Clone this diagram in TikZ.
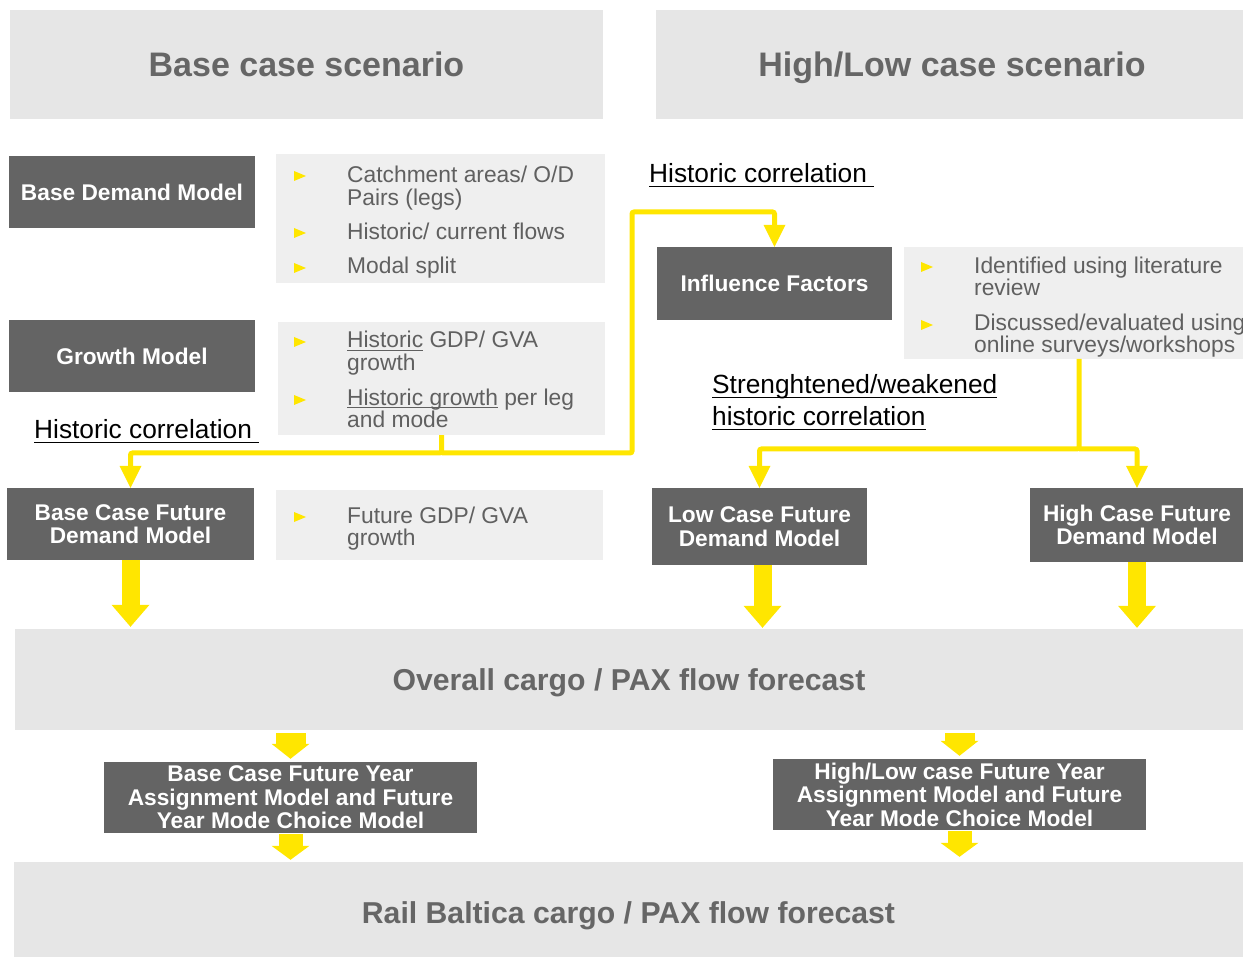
\documentclass[tikz,border=0pt]{standalone}
\usepackage{fontspec}
\setmainfont{Liberation Sans}
\usetikzlibrary{arrows.meta}
\definecolor{yel}{HTML}{FFE600}
\definecolor{hdrgray}{HTML}{E6E6E6}
\definecolor{bulgray}{HTML}{EFEFEF}
\definecolor{darkbox}{HTML}{646464}
\definecolor{txtgray}{HTML}{666666}
\definecolor{bultxt}{HTML}{606060}
\newcommand\myul[1]{\setbox0\hbox{#1}\rlap{\rule[-3pt]{\wd0}{1.2pt}}\box0\relax}
\newcommand\labul[1]{\setbox0\hbox{#1}\rlap{\rule[-4.5pt]{\wd0}{1.6pt}}\box0\relax}
\newcommand\bul[2]{\fill[yel] (#1-6,#2-5) -- (#1+6,#2) -- (#1-6,#2+5) -- cycle;}
\begin{document}
\begin{tikzpicture}[x=1pt,y=-1pt,
  hdr/.style={fill=hdrgray, text=txtgray, inner sep=0pt, text height=24.3pt, text depth=0pt, font=\fontsize{34}{40}\selectfont\bfseries},
  bigbox/.style={fill=hdrgray, text=txtgray, inner sep=0pt, text height=21.5pt, text depth=0pt, font=\fontsize{30.2}{34}\selectfont\bfseries},
  dbox/.style={fill=darkbox, text=white, inner sep=0pt, align=center, font=\fontsize{22.7}{23.5}\selectfont\bfseries},
  bbox/.style={fill=bulgray, inner sep=0pt},
  btxt/.style={anchor=base west, inner sep=0pt, text=bultxt, font=\fontsize{22.8}{23.5}\selectfont},
  lab/.style={anchor=base west, inner sep=0pt, text=black, font=\fontsize{26.3}{32}\selectfont},
  conn/.style={draw=yel, line width=5pt, rounded corners=2pt, -{Triangle[width=22pt,length=22pt,line width=0pt]}},
  fat/.style={draw=yel, line width=18pt, -{Triangle[width=38pt,length=22pt,line width=0pt]}},
  sarr/.style={draw=yel, line width=30pt, -{Triangle[width=38pt,length=15pt,line width=0pt]}},
  sarrb/.style={draw=yel, line width=24pt, -{Triangle[width=38pt,length=14pt,line width=0pt]}}
]
\useasboundingbox (0,0) rectangle (1243,957);

% headers
\node[hdr, minimum width=593pt, minimum height=109pt] (h1) at (306.5,64.5) {Base case scenario};
\node[hdr, minimum width=592pt, minimum height=109pt] (h2) at (952,64.5) {High/Low case scenario};

% left column
\node[dbox, minimum width=246pt, minimum height=72pt] (bdm) at (132,192) {Base Demand Model};
\node[bbox, minimum width=329pt, minimum height=129pt] (bl1) at (440.5,218.5) {};
\node[dbox, minimum width=246pt, minimum height=72pt] (gm) at (132,356) {Growth Model};
\node[bbox, minimum width=327pt, minimum height=113pt] (bl2) at (441.5,378.5) {};
\node[dbox, minimum width=247pt, minimum height=72pt] (bcf) at (130.5,524) {Base Case Future\\Demand Model};
\node[bbox, minimum width=327pt, minimum height=70pt] (bl3) at (439.5,525) {};

% right column
\node[dbox, minimum width=235pt, minimum height=73pt] (inf) at (774.5,283.5) {Influence Factors};
\node[bbox, minimum width=346pt, minimum height=112pt] (bl4) at (1077,303) {};
\node[dbox, minimum width=215pt, minimum height=77pt] (lcf) at (759.5,526.5) {Low Case Future\\Demand Model};
\node[dbox, minimum width=214pt, minimum height=74pt] (hcf) at (1137,525) {High Case Future\\Demand Model};

% bottom
\node[bigbox, minimum width=1228pt, minimum height=101pt] (ovr) at (629,679.5) {Overall cargo / PAX flow forecast};
\node[dbox, minimum width=373pt, minimum height=71pt] (bfy) at (290.5,797.5) {Base Case Future Year\\Assignment Model and Future\\Year Mode Choice Model};
\node[dbox, minimum width=373pt, minimum height=71pt] (hfy) at (959.5,794.5) {High/Low case Future Year\\Assignment Model and Future\\Year Mode Choice Model};
\node[bigbox, text height=28pt, minimum width=1229pt, minimum height=95pt] (rail) at (628.5,909.5) {Rail Baltica cargo / PAX flow forecast};

% bullet texts
\bul{300}{176}\bul{300}{233}\bul{300}{268}
\node[btxt] (t11) at (347,182.5) {Catchment areas/ O/D};
\node[btxt] (t12) at (347,205.5) {Pairs (legs)};
\node[btxt] (t13) at (347,239.5) {Historic/ current flows};
\node[btxt] (t14) at (347,274) {Modal split};

\bul{300}{342}\bul{300}{400}
\node[btxt] (t21) at (347,348) {\myul{Historic} GDP/ GVA};
\node[btxt] (t22) at (347,370.5) {growth};
\node[btxt] (t23) at (347,405.5) {\myul{Historic growth} per leg};
\node[btxt] (t24) at (347,428) {and mode};

\bul{300}{517}
\node[btxt] (t31) at (347,523) {Future GDP/ GVA};
\node[btxt] (t32) at (347,545.5) {growth};

\bul{927}{267}\bul{927}{325}
\node[btxt] (t41) at (974,273.5) {Identified using literature};
\node[btxt] (t42) at (974,296) {review};
\node[btxt] (t43) at (974,330.5) {Discussed/evaluated using};
\node[btxt] (t44) at (974,352.5) {online surveys/workshops};

% labels
\node[lab] (hc1) at (34,439) {\labul{Historic correlation\ }};
\node[lab] (hc2) at (649,183) {\labul{Historic correlation\ }};
\node[lab] (sw1) at (712,394) {\labul{Strenghtened/weakened}};
\node[lab] (sw2) at (712,426) {\labul{historic correlation}};

% thin connectors
\coordinate (j1) at (441.5,453);
\coordinate (k1) at (632,453);
\coordinate (k2) at (632,212);
\draw[conn] (bl2.south) -- (j1) -| (bcf.north);
\draw[conn] (j1) -- (k1) -- (k2) -| (inf.north);
\coordinate (s4) at (1079,359);
\coordinate (j2) at (1079,449);
\draw[conn] (s4) -- (j2) -| (lcf.north);
\draw[conn] (j2) -| (hcf.north);

% fat arrows
\draw[fat, shorten >=2pt] (bcf.south) -- (bcf.south |- ovr.north);
\draw[fat, shorten >=1pt] ([xshift=3pt]lcf.south) -- ([xshift=3pt]lcf.south |- ovr.north);
\draw[fat, shorten >=1pt] (hcf.south) -- (hcf.south |- ovr.north);

% small arrows
\draw[sarr, shorten <=3pt, shorten >=3pt] (ovr.south -| bfy.north) -- (bfy.north);
\draw[sarrb, shorten <=1pt, shorten >=2pt] (bfy.south) -- (bfy.south |- rail.north);
\draw[sarr, shorten <=3pt, shorten >=3pt] (ovr.south -| hfy.north) -- (hfy.north);
\draw[sarrb, shorten <=1pt, shorten >=5pt] (hfy.south) -- (hfy.south |- rail.north);
\end{tikzpicture}
\end{document}
